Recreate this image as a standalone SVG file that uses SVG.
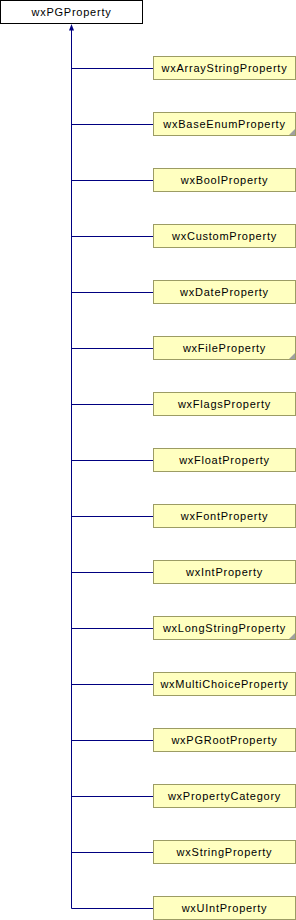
<svg xmlns="http://www.w3.org/2000/svg" width="296" height="920" viewBox="0 0 296 920">
<style>
.n rect{fill:#ffffc0;stroke:#9c9c64;stroke-width:1}
.root rect{fill:#fff;stroke:#000;stroke-width:1}
text{font-family:"Liberation Sans",Arial,sans-serif;font-size:11px;letter-spacing:0.75px;text-anchor:middle;fill:#000}
.c path{fill:none;stroke:#000080;stroke-width:1}
.fold{fill:#a0a0a0;stroke:none}
</style>
<rect width="296" height="920" fill="#fff"/>
<g class="c">
<path d="M71.5,30V908.5"/>
<path d="M71.5,68.5H153M71.5,124.5H153M71.5,180.5H153M71.5,236.5H153M71.5,292.5H153M71.5,348.5H153M71.5,404.5H153M71.5,460.5H153M71.5,516.5H153M71.5,572.5H153M71.5,628.5H153M71.5,684.5H153M71.5,740.5H153M71.5,796.5H153M71.5,852.5H153M71.5,908.5H153"/>
<polygon points="71.5,24 69,30.5 74,30.5" fill="#000080"/>
</g>
<g id="wxPGProperty" class="root"><rect x="0.5" y="0.5" width="142" height="23"/><text x="71.5" y="16">wxPGProperty</text></g>
<g id="wxArrayStringProperty" class="n"><rect x="153.5" y="56.5" width="142" height="23"/><text x="224.5" y="72">wxArrayStringProperty</text></g>
<g id="wxBaseEnumProperty" class="n"><rect x="153.5" y="112.5" width="142" height="23"/><text x="224.5" y="128">wxBaseEnumProperty</text><polygon class="fold" points="295,129 295,135 289,135"/></g>
<g id="wxBoolProperty" class="n"><rect x="153.5" y="168.5" width="142" height="23"/><text x="224.5" y="184">wxBoolProperty</text></g>
<g id="wxCustomProperty" class="n"><rect x="153.5" y="224.5" width="142" height="23"/><text x="224.5" y="240">wxCustomProperty</text></g>
<g id="wxDateProperty" class="n"><rect x="153.5" y="280.5" width="142" height="23"/><text x="224.5" y="296">wxDateProperty</text></g>
<g id="wxFileProperty" class="n"><rect x="153.5" y="336.5" width="142" height="23"/><text x="224.5" y="352">wxFileProperty</text><polygon class="fold" points="295,353 295,359 289,359"/></g>
<g id="wxFlagsProperty" class="n"><rect x="153.5" y="392.5" width="142" height="23"/><text x="224.5" y="408">wxFlagsProperty</text></g>
<g id="wxFloatProperty" class="n"><rect x="153.5" y="448.5" width="142" height="23"/><text x="224.5" y="464">wxFloatProperty</text></g>
<g id="wxFontProperty" class="n"><rect x="153.5" y="504.5" width="142" height="23"/><text x="224.5" y="520">wxFontProperty</text></g>
<g id="wxIntProperty" class="n"><rect x="153.5" y="560.5" width="142" height="23"/><text x="224.5" y="576">wxIntProperty</text></g>
<g id="wxLongStringProperty" class="n"><rect x="153.5" y="616.5" width="142" height="23"/><text x="224.5" y="632">wxLongStringProperty</text><polygon class="fold" points="295,633 295,639 289,639"/></g>
<g id="wxMultiChoiceProperty" class="n"><rect x="153.5" y="672.5" width="142" height="23"/><text x="224.5" y="688">wxMultiChoiceProperty</text></g>
<g id="wxPGRootProperty" class="n"><rect x="153.5" y="728.5" width="142" height="23"/><text x="224.5" y="744">wxPGRootProperty</text></g>
<g id="wxPropertyCategory" class="n"><rect x="153.5" y="784.5" width="142" height="23"/><text x="224.5" y="800">wxPropertyCategory</text></g>
<g id="wxStringProperty" class="n"><rect x="153.5" y="840.5" width="142" height="23"/><text x="224.5" y="856">wxStringProperty</text></g>
<g id="wxUIntProperty" class="n"><rect x="153.5" y="896.5" width="142" height="23"/><text x="224.5" y="912">wxUIntProperty</text></g>
</svg>
